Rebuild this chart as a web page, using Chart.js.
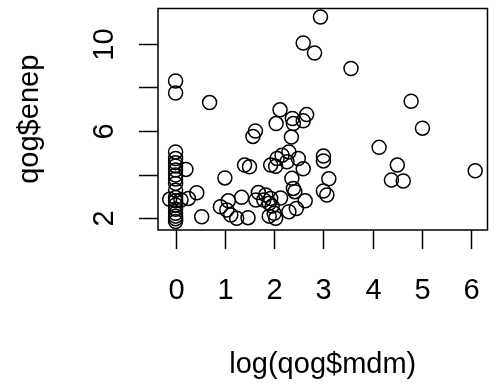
<!DOCTYPE html>
<html>
<head>
<meta charset="utf-8">
<script src="https://cdn.jsdelivr.net/npm/chart.js@4/dist/chart.umd.min.js"></script>
<style>
  html, body { margin: 0; padding: 0; background: #fff; }
  canvas { display: block; }
</style>
</head>
<body>
<canvas id="plot" width="496" height="386"></canvas>
<script>
// log(qog$mdm) values
const mdm = [
  -0.12, 0, 0, 0, 0, 0, 0, 0, 0, 0, 0, 0, 0, 0, 0, 0, 0, 0, 0, 0,
  0.11, 0.21, 0.26, 0.43, 0.53, 0.69, 0.91, 1.0, 1.07, 1.04,
  1.12, 1.24, 1.34, 1.40, 1.50, 1.47, 1.62, 1.57, 1.63, 1.68,
  1.79, 1.83, 1.90, 1.93, 1.96, 2.0, 2.03, 1.90, 2.13, 2.30,
  2.45, 2.63, 1.93, 2.03, 2.06, 2.16, 2.30, 2.26, 2.49, 2.59,
  2.36, 2.39, 2.42, 2.12, 2.04, 2.37, 2.39, 2.66, 2.59, 2.35,
  2.59, 2.82, 2.94, 3.56, 4.78, 5.01, 4.13, 4.50, 4.38, 4.62,
  6.08, 3.0, 3.0, 3.11, 3.0, 3.07
];
// qog$enep values, same order
const enep = [
  2.87, 8.29, 7.74, 5.04, 4.74, 4.55, 4.40, 4.21, 3.98, 3.80, 3.60, 3.29, 2.95, 2.80, 2.61, 2.41, 2.23, 2.10, 1.98, 1.85,
  2.84, 4.24, 2.91, 3.17, 2.07, 7.30, 2.53, 3.85, 2.80, 2.38,
  2.15, 2.0, 2.96, 4.44, 4.36, 2.03, 6.0, 5.75, 2.84, 3.18,
  2.84, 3.07, 2.69, 2.91, 2.56, 2.23, 2.0, 2.1, 2.93, 2.30,
  2.45, 2.80, 4.44, 4.38, 4.74, 4.89, 5.04, 4.59, 4.74, 4.27,
  3.83, 3.37, 3.22, 6.97, 6.34, 6.57, 6.34, 6.75, 6.47, 5.72,
  10.03, 9.57, 11.22, 8.86, 7.36, 6.13, 5.25, 4.44, 3.75, 3.71,
  4.18, 4.85, 4.63, 3.81, 3.25, 3.07
];
const xTicks = [0, 1, 2, 3, 4, 5, 6];
const yTicks = [2, 4, 6, 8, 10];
const yTickLabels = ['2', '', '6', '', '10'];
const xTitle = 'log(qog$mdm)';
const yTitle = 'qog$enep';

const points = mdm.map((x, i) => ({ x: x, y: enep[i] }));
const FONT = '29px "Liberation Sans", Arial, sans-serif';

// R style box, ticks and labels drawn from the chart's own scales
const baseAxes = {
  id: 'baseAxes',
  afterDraw(chart) {
    const ctx = chart.ctx;
    const area = chart.chartArea;
    const xs = chart.scales.x;
    const ys = chart.scales.y;
    ctx.save();
    ctx.strokeStyle = '#000';
    ctx.fillStyle = '#000';
    ctx.lineWidth = 1.5;
    ctx.strokeRect(area.left, area.top, area.right - area.left, area.bottom - area.top);

    ctx.font = FONT;
    ctx.textAlign = 'center';
    ctx.textBaseline = 'alphabetic';
    xTicks.forEach(v => {
      const px = Math.round(xs.getPixelForValue(v)) + 0.5;
      ctx.beginPath();
      ctx.moveTo(px, area.bottom);
      ctx.lineTo(px, area.bottom + 19);
      ctx.stroke();
      ctx.fillText(String(v), px, 299);
    });

    yTicks.forEach((v, i) => {
      const py = Math.round(ys.getPixelForValue(v)) + 0.5;
      ctx.beginPath();
      ctx.moveTo(area.left, py);
      ctx.lineTo(area.left - 19, py);
      ctx.stroke();
      if (yTickLabels[i]) {
        ctx.save();
        ctx.translate(113, py);
        ctx.rotate(-Math.PI / 2);
        ctx.fillText(yTickLabels[i], 0, 0);
        ctx.restore();
      }
    });

    ctx.fillText(xTitle, (area.left + area.right) / 2, 373);
    ctx.save();
    ctx.translate(38, (area.top + area.bottom) / 2);
    ctx.rotate(-Math.PI / 2);
    ctx.fillText(yTitle, 0, 0);
    ctx.restore();
    ctx.restore();
  }
};

new Chart(document.getElementById('plot'), {
  type: 'scatter',
  data: {
    datasets: [{
      data: points,
      pointStyle: 'circle',
      pointRadius: 7,
      pointHoverRadius: 7,
      borderWidth: 1.5,
      borderColor: '#000',
      backgroundColor: 'rgba(0,0,0,0)',
      clip: false
    }]
  },
  options: {
    responsive: false,
    animation: false,
    events: [],
    layout: { padding: { left: 158, right: 1, top: 8, bottom: 156 } },
    plugins: { legend: { display: false }, tooltip: { enabled: false } },
    scales: {
      x: { type: 'linear', display: false, min: -0.357, max: 6.33 },
      y: { type: 'linear', display: false, min: 1.465, max: 11.61 }
    }
  },
  plugins: [baseAxes]
});
</script>
</body>
</html>
